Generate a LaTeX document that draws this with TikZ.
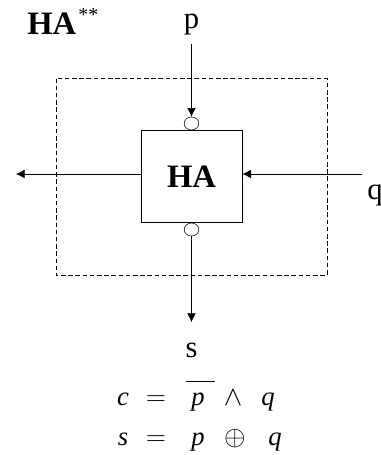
\documentclass[tikz,border=0pt]{standalone}
\usepackage{fontspec}
\setmainfont{Liberation Serif}
\usepackage{amsmath,amssymb}
\usetikzlibrary{arrows.meta,shapes.geometric}
\tikzset{
  lbl/.style={font=\fontsize{23}{26}\selectfont,inner sep=0pt,anchor=base},
  eqn/.style={font=\fontsize{20}{24}\selectfont\itshape,inner sep=0pt,anchor=base},
  bubble/.style={draw,ellipse,minimum width=11pt,minimum height=9.75pt,inner sep=0pt},
  wire/.style={-{Latex[length=6.5pt,width=6.5pt]}}
}
\begin{document}
\begin{tikzpicture}[x=0.75pt,y=-0.75pt]
\useasboundingbox (0,0) rectangle (381,455);
\draw[dash pattern=on 3.4pt off 2pt] (56,78.5) rectangle (327,275);

\node[draw,minimum width=75.75pt,minimum height=69pt,inner sep=0pt,font=\fontsize{24.5}{28}\selectfont\bfseries] (ha) at (191.5,176.5) {\raisebox{-1.2pt}{HA}};
\node[bubble,anchor=south] (inv_p) at (ha.north) {};
\node[bubble,anchor=north] (inv_s) at (ha.south) {};

\node[lbl,font=\fontsize{24.5}{28}\selectfont\bfseries,anchor=base west] (title) at (27,34.5) {HA\raisebox{9.7pt}{\kern1.5pt\fontsize{15}{18}\selectfont\mdseries **}};
\node[lbl] (p) at (191.5,28) {p};
\node[lbl] (q) at (375,199) {q};
\node[lbl] (s) at (191.5,357) {s};

\coordinate (p_in) at (191.5,44);
\coordinate (q_in) at (362,174);
\coordinate (c_out) at (16,174);
\coordinate (s_out) at (191.5,322);
\coordinate (ha_l) at (141.5,174);
\coordinate (ha_r) at (242.5,174);

\draw[wire] (p_in) -- (inv_p);
\draw[wire] (q_in) -- (ha_r);
\draw[wire] (ha_l) -- (c_out);
\draw[wire] (inv_s) -- (s_out);

% equations
\node[eqn] (c1) at (123,405) {c};
\node[eqn] (eq1) at (156,405) {$=$};
\node[eqn] (p1) at (198,405) {p};
\node[eqn] (and1) at (233,405) {$\wedge$};
\node[eqn] (q1) at (268,405) {q};
\node[eqn] (s2) at (123,445) {s};
\node[eqn] (eq2) at (156,445) {$=$};
\node[eqn] (p2) at (198,445) {p};
\node[eqn] (xor2) at (235,445) {$\oplus$};
\node[eqn] (q2) at (275,445) {q};
\coordinate (bar_l) at (186,381);
\coordinate (bar_r) at (215,381);
\draw[semithick] (bar_l) -- (bar_r);
\end{tikzpicture}
\end{document}
